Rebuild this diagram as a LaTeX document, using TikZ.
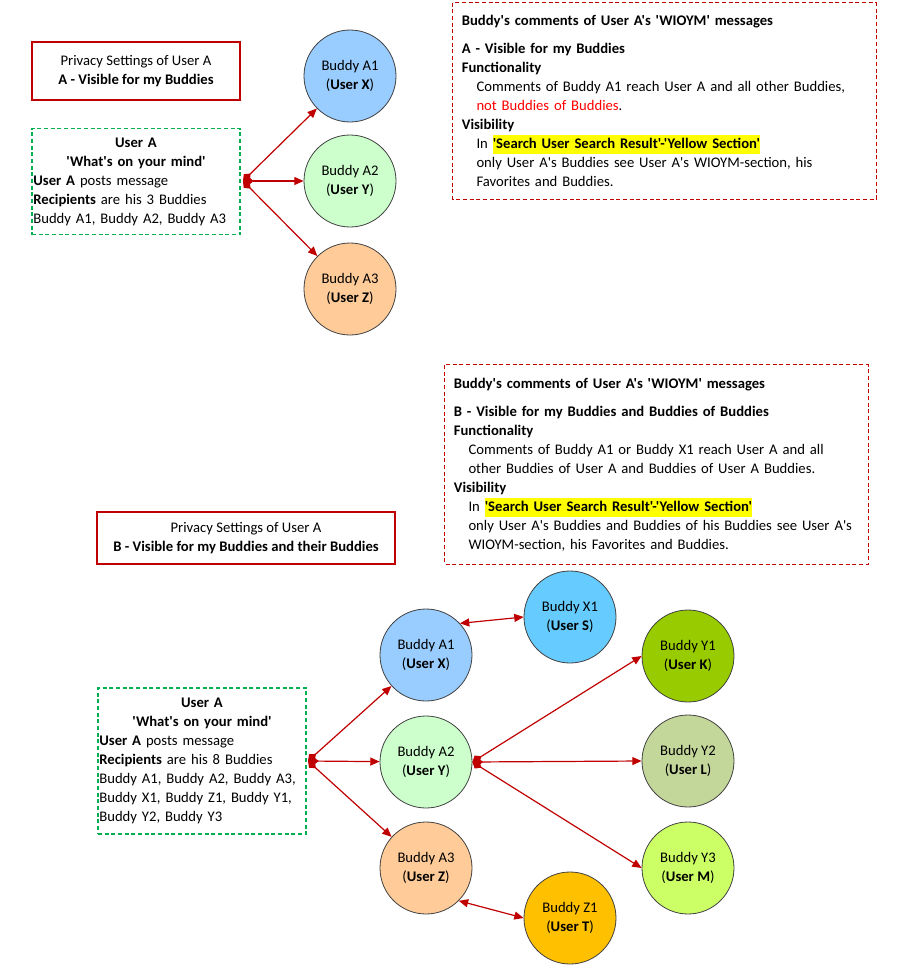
\documentclass[tikz,border=0pt]{standalone}
\usepackage{fontspec}
\setmainfont{Carlito}[Ligatures=TeXOff]
\usepackage{tikz}
\usetikzlibrary{arrows.meta}
\definecolor{boxred}{RGB}{192,0,0}
\definecolor{textred}{RGB}{255,0,0}
\definecolor{postgreen}{RGB}{0,176,80}
\definecolor{hlyellow}{RGB}{255,255,0}
\definecolor{budA1}{RGB}{153,204,255}
\definecolor{budA2}{RGB}{204,255,204}
\definecolor{budA3}{RGB}{255,204,153}
\definecolor{budX1}{RGB}{102,204,255}
\definecolor{budY1}{RGB}{153,204,0}
\definecolor{budY2}{RGB}{196,215,155}
\definecolor{budY3}{RGB}{204,255,102}
\definecolor{budZ1}{RGB}{255,192,0}
\newcommand{\hl}[1]{{\setlength{\fboxsep}{0pt}\colorbox{hlyellow}{\strut #1}}}
\newcommand{\ind}{\hspace*{11pt}}

\begin{document}
\begin{tikzpicture}[x=0.75pt, y=-0.75pt, font=\fontsize{11}{14.25}\selectfont,
  privbox/.style={draw=boxred, line width=0.8pt, align=center, inner sep=0pt},
  postbox/.style={draw=postgreen, line width=0.8pt, dash pattern=on 3pt off 2pt,
    text width=154pt, inner xsep=1pt, inner ysep=0pt, align=left},
  notebox/.style={text width=304pt, inner xsep=6.6pt, inner ysep=0pt, align=left},
  noteframe/.style={draw=boxred, line width=0.8pt, dash pattern=on 3pt off 2pt},
  buddy/.style={circle, draw=black!75, line width=0.6pt, minimum size=69pt,
    inner sep=0pt, align=center},
  link/.style={draw=boxred, line width=0.9pt,
    arrows={Diamond[length=8pt,width=6.5pt]-Triangle[length=7pt,width=6pt]}},
  both/.style={draw=boxred, line width=0.9pt,
    arrows={Triangle[length=7pt,width=6pt]-Triangle[length=7pt,width=6pt]}}]
  \useasboundingbox (0,0) rectangle (900,978);

  % A - visible for my buddies
  \node[privbox, minimum width=156pt, minimum height=43.5pt] (privA) at (136,71)
    {Privacy Settings of User A\\\textbf{A - Visible for my Buddies}};
  \node[postbox, minimum height=80pt] (postA) at (136,181.5)
    {{\centering\textbf{User A}\\\textbf{'What's on your mind'}\par}
     \textbf{User A} posts message\\
     \textbf{Recipients} are his 3 Buddies\\
     Buddy A1, Buddy A2, Buddy A3};
  \coordinate (hubA) at (243,181);
  \node[buddy, fill=budA1] (A1) at (350,76) {Buddy A1\\(\textbf{User X})};
  \node[buddy, fill=budA2] (A2) at (350,181) {Buddy A2\\(\textbf{User Y})};
  \node[buddy, fill=budA3] (A3) at (350,289) {Buddy A3\\(\textbf{User Z})};
  \draw[link] (hubA) -- (A1);
  \draw[link] (hubA) -- (A2);
  \draw[link] (hubA) -- (A3);
  \node[notebox, minimum height=147pt] (noteA) at (664.5,101)
    {\textbf{Buddy's comments of User A's 'WIOYM' messages}\\[7pt]
     \textbf{A - Visible for my Buddies}\\
     \textbf{Functionality}\\
     \ind Comments of Buddy A1 reach User A and all other Buddies,\\
     \ind\textcolor{textred}{not Buddies of Buddies}.\\
     \textbf{Visibility}\\
     \ind In \hl{\textbf{'Search User Search Result'-'Yellow Section'}}\\
     \ind only User A's Buddies see User A's WIOYM-section, his\\
     \ind Favorites and Buddies.};

  % B - visible for my buddies and their buddies
  \node[notebox, minimum height=149pt] (noteB) at (656.5,464.5)
    {\textbf{Buddy's comments of User A's 'WIOYM' messages}\\[7pt]
     \textbf{B - Visible for my Buddies and Buddies of Buddies}\\
     \textbf{Functionality}\\
     \ind Comments of Buddy A1 or Buddy X1 reach User A and all\\
     \ind other Buddies of User A and Buddies of User A Buddies.\\
     \textbf{Visibility}\\
     \ind In \hl{\textbf{'Search User Search Result'-'Yellow Section'}}\\
     \ind only User A's Buddies and Buddies of his Buddies see User A's\\
     \ind WIOYM-section, his Favorites and Buddies.};
  \draw[noteframe] (noteA.north west) rectangle (noteA.south east);
  \draw[noteframe] (noteB.north west) rectangle (noteB.south east);
  \node[privbox, minimum width=223.5pt, minimum height=39pt] (privB) at (246,538)
    {Privacy Settings of User A\\\textbf{B - Visible for my Buddies and their Buddies}};
  \node[postbox, minimum height=109.5pt] (postB) at (202,761)
    {{\centering\textbf{User A}\\\textbf{'What's on your mind'}\par}
     \textbf{User A} posts message\\
     \textbf{Recipients} are his 8 Buddies\\
     Buddy A1, Buddy A2, Buddy A3,\\
     Buddy X1, Buddy Z1, Buddy Y1,\\
     Buddy Y2, Buddy Y3};
  \coordinate (hubB) at (308,761);
  \node[buddy, fill=budA1] (B1) at (426,655) {Buddy A1\\(\textbf{User X})};
  \node[buddy, fill=budA2] (B2) at (426,762) {Buddy A2\\(\textbf{User Y})};
  \node[buddy, fill=budA3] (B3) at (426,868) {Buddy A3\\(\textbf{User Z})};
  \node[buddy, fill=budX1] (X1) at (570,617) {Buddy X1\\(\textbf{User S})};
  \node[buddy, fill=budZ1] (Z1) at (570,918) {Buddy Z1\\(\textbf{User T})};
  \node[buddy, fill=budY1] (Y1) at (688,656) {Buddy Y1\\(\textbf{User K})};
  \node[buddy, fill=budY2] (Y2) at (688,761) {Buddy Y2\\(\textbf{User L})};
  \node[buddy, fill=budY3] (Y3) at (688,868) {Buddy Y3\\(\textbf{User M})};
  \draw[link] (hubB) -- (B1);
  \draw[link] (hubB) -- (B2);
  \draw[link] (hubB) -- (B3);
  \draw[both] (B1.43) -- (X1.west);
  \draw[both] (B3.-45) -- (Z1.west);
  \draw[link] (B2.east) -- (Y1.west);
  \draw[link] (B2.east) -- (Y2.west);
  \draw[link] (B2.east) -- (Y3.west);
\end{tikzpicture}
\end{document}
